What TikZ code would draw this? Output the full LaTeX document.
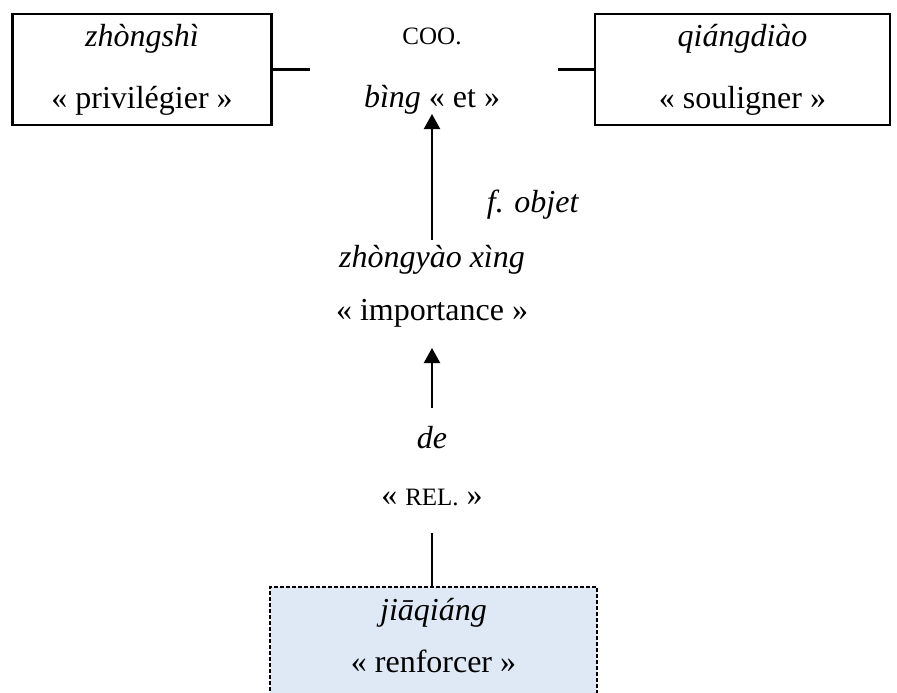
\documentclass[tikz,border=0pt]{standalone}
\usepackage{fontspec}
\setmainfont{Liberation Serif}
\usetikzlibrary{arrows.meta}
\definecolor{boxblue}{RGB}{222,233,245}
\begin{document}
\begin{tikzpicture}[x=1pt,y=-1pt,
  txt/.style={font=\fontsize{32}{62}\selectfont, inner sep=0pt, anchor=base},
  sc/.style={font=\fontsize{25}{30}\selectfont, inner sep=0pt, anchor=base},
  wordbox/.style={draw, line width=2.2pt, font=\fontsize{32}{62}\selectfont, align=center, inner sep=0pt},
  conn/.style={line width=2.2pt},
  arr/.style={conn, -{Triangle[length=15pt,width=16pt]}},
  dashbox/.style={draw, fill=boxblue, line width=2pt, dash pattern=on 4pt off 2pt, inner sep=0pt},
  ]
\useasboundingbox (0,0) rectangle (897,693);
\clip (0,0) rectangle (897,693);

% top row
\node[wordbox, minimum width=259pt, minimum height=111pt] (zs) at (142,69.5)
  {\textit{zhòngshì}\\« privilégier »};
\node[wordbox, minimum width=295pt, minimum height=111pt] (qd) at (742.5,69.5)
  {\textit{qiángdiào}\\« souligner »};
\node[sc] (coo) at (432,45) {COO.};
\node[txt] (bing) at (432,107) {\textit{bìng} « et »};
\coordinate (lend) at (310,69.5);
\coordinate (rend) at (558,69.5);
\draw[conn] (zs.east) -- (lend);
\draw[conn] (qd.west) -- (rend);

% middle
\node[txt] (fobj) at (533,212) {\textit{f. objet}};
\node[txt] (zy) at (432,267) {\textit{zhòngyào xìng}};
\node[txt] (imp) at (432,320) {« importance »};
\node[txt] (de) at (432,448) {\textit{de}};
\node[txt] (rel) at (432,505) {« {\fontsize{25}{30}\selectfont REL.} »};

% bottom box
\node[dashbox, minimum width=327pt, minimum height=140pt, anchor=north] (jq) at (433.5,586) {};
\node[txt] (jq1) at (433.5,620) {\textit{jiāqiáng}};
\node[txt] (jq2) at (433.5,672) {« renforcer »};

% connectors
\draw[arr, shorten <=5pt] (zy.north) -- (bing.south);
\draw[arr, shorten <=18pt, shorten >=21pt] (de.north) -- (imp.south);
\draw[conn, shorten >=27pt] (rel.south |- jq.north) -- (rel.south);
\end{tikzpicture}
\end{document}
